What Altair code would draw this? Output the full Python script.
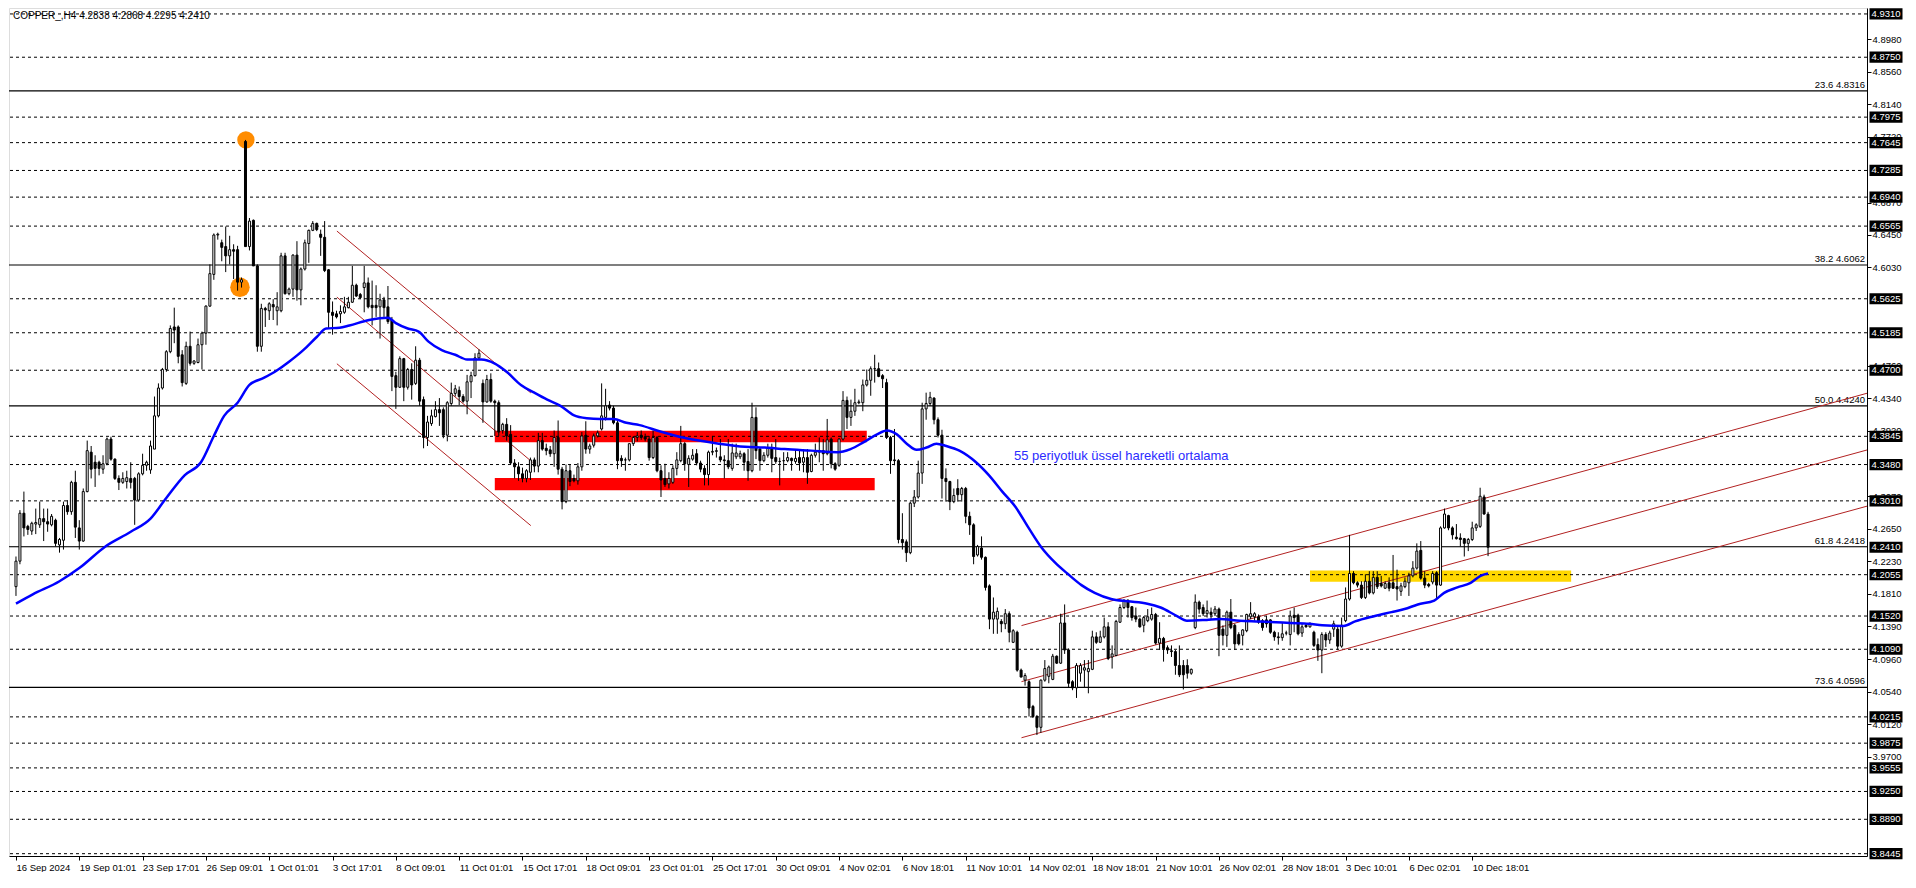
import altair as alt
import pandas as pd

# ---------------- data ----------------
opens = [
 4.190,4.223,4.285,4.268,4.262,4.271,4.270,4.278,4.274,4.270,
 4.276,4.244,4.250,4.295,4.287,4.325,4.266,4.249,4.313,4.364,
 4.351,4.351,4.342,4.349,4.381,4.355,4.330,4.325,4.326,4.330,
 4.330,4.302,4.336,4.347,4.341,4.368,4.411,4.447,4.471,4.494,
 4.526,4.526,4.490,4.453,4.501,4.479,4.480,4.503,4.518,4.553,
 4.594,4.645,4.635,4.630,4.618,4.626,4.626,4.584,4.766,4.630,
 4.664,4.605,4.501,4.550,4.547,4.555,4.547,4.547,4.618,4.569,
 4.575,4.619,4.574,4.601,4.634,4.651,4.660,4.646,4.642,4.600,
 4.545,4.543,4.543,4.545,4.551,4.558,4.580,4.568,4.577,4.583,
 4.554,4.554,4.552,4.561,4.552,4.535,4.463,4.448,4.485,4.448,
 4.471,4.453,4.483,4.432,4.383,4.401,4.410,4.419,4.419,4.386,
 4.427,4.440,4.444,4.436,4.430,4.455,4.463,4.486,4.453,4.429,
 4.458,4.430,4.428,4.392,4.400,4.387,4.350,4.345,4.336,4.330,
 4.338,4.354,4.346,4.379,4.369,4.367,4.362,4.383,4.342,4.300,
 4.340,4.330,4.327,4.345,4.386,4.368,4.373,4.385,4.394,4.409,
 4.425,4.421,4.402,4.356,4.354,4.354,4.375,4.383,4.386,4.384,
 4.381,4.357,4.383,4.340,4.330,4.323,4.325,4.343,4.353,4.375,
 4.348,4.355,4.362,4.350,4.343,4.335,4.364,4.365,4.358,4.354,
 4.353,4.343,4.358,4.358,4.362,4.352,4.340,4.409,4.368,4.353,
 4.360,4.369,4.357,4.352,4.353,4.353,4.356,4.352,4.357,4.351,
 4.357,4.339,4.360,4.364,4.366,4.362,4.381,4.349,4.347,4.381,
 4.431,4.409,4.417,4.428,4.428,4.451,4.457,4.472,4.472,4.463,
 4.454,4.383,4.354,4.353,4.251,4.248,4.234,4.298,4.306,4.337,
 4.420,4.427,4.434,4.406,4.386,4.330,4.326,4.300,4.317,4.309,
 4.317,4.281,4.270,4.231,4.240,4.228,4.191,4.148,4.148,4.145,
 4.142,4.155,4.118,4.131,4.082,4.069,4.067,4.035,4.022,4.008,
 4.069,4.074,4.070,4.100,4.091,4.143,4.108,4.067,4.059,4.078,
 4.082,4.080,4.083,4.125,4.118,4.125,4.138,4.099,4.101,4.144,
 4.163,4.172,4.164,4.152,4.148,4.140,4.146,4.148,4.154,4.117,
 4.123,4.111,4.107,4.106,4.088,4.088,4.088,4.078,4.137,4.170,
 4.163,4.155,4.157,4.155,4.161,4.135,4.127,4.157,4.140,4.128,
 4.127,4.133,4.151,4.151,4.151,4.146,4.147,4.147,4.131,4.125,
 4.124,4.130,4.128,4.153,4.153,4.130,4.140,4.138,4.131,4.115,
 4.108,4.128,4.121,4.135,4.135,4.113,4.146,4.174,4.207,4.195,
 4.192,4.176,4.197,4.182,4.202,4.194,4.188,4.195,4.195,4.190,
 4.184,4.190,4.195,4.204,4.214,4.237,4.201,4.193,4.196,4.208,
 4.192,4.266,4.282,4.266,4.254,4.253,4.252,4.246,4.251,4.266,
 4.268,4.306,4.2838]

highs = [
 4.229,4.289,4.313,4.270,4.274,4.291,4.300,4.291,4.291,4.284,
 4.278,4.253,4.300,4.302,4.327,4.340,4.276,4.317,4.379,4.372,
 4.360,4.353,4.360,4.383,4.384,4.356,4.334,4.338,4.340,4.351,
 4.332,4.338,4.362,4.353,4.379,4.436,4.453,4.473,4.496,4.528,
 4.551,4.528,4.496,4.507,4.520,4.483,4.511,4.520,4.554,4.607,
 4.647,4.648,4.639,4.656,4.644,4.633,4.631,4.590,4.768,4.667,
 4.665,4.607,4.556,4.552,4.558,4.562,4.571,4.622,4.622,4.577,
 4.620,4.637,4.603,4.639,4.652,4.663,4.661,4.652,4.663,4.601,
 4.559,4.547,4.554,4.565,4.565,4.605,4.582,4.570,4.605,4.590,
 4.586,4.580,4.569,4.565,4.579,4.539,4.468,4.488,4.486,4.473,
 4.479,4.501,4.486,4.436,4.411,4.419,4.430,4.434,4.422,4.430,
 4.454,4.451,4.449,4.439,4.464,4.468,4.492,4.497,4.458,4.464,
 4.466,4.432,4.431,4.402,4.408,4.399,4.355,4.351,4.344,4.342,
 4.357,4.357,4.389,4.389,4.375,4.372,4.392,4.405,4.345,4.348,
 4.348,4.335,4.350,4.390,4.404,4.375,4.388,4.392,4.453,4.446,
 4.430,4.424,4.405,4.360,4.357,4.375,4.385,4.390,4.392,4.388,
 4.385,4.392,4.385,4.347,4.349,4.338,4.347,4.364,4.398,4.377,
 4.360,4.368,4.368,4.353,4.347,4.366,4.385,4.370,4.381,4.360,
 4.381,4.375,4.375,4.366,4.364,4.368,4.428,4.422,4.370,4.364,
 4.375,4.375,4.381,4.357,4.364,4.364,4.357,4.368,4.368,4.368,
 4.368,4.362,4.375,4.383,4.381,4.407,4.383,4.351,4.382,4.443,
 4.436,4.432,4.446,4.432,4.458,4.471,4.475,4.490,4.480,4.465,
 4.459,4.385,4.394,4.355,4.285,4.251,4.300,4.315,4.353,4.428,
 4.441,4.442,4.435,4.409,4.393,4.343,4.327,4.317,4.329,4.319,
 4.319,4.287,4.272,4.244,4.255,4.229,4.193,4.176,4.163,4.148,
 4.161,4.158,4.135,4.133,4.084,4.078,4.069,4.037,4.024,4.070,
 4.095,4.088,4.103,4.101,4.155,4.167,4.110,4.069,4.091,4.091,
 4.095,4.095,4.133,4.131,4.133,4.150,4.144,4.114,4.147,4.167,
 4.174,4.174,4.165,4.163,4.150,4.152,4.161,4.163,4.156,4.144,
 4.125,4.114,4.114,4.108,4.114,4.095,4.096,4.084,4.180,4.172,
 4.167,4.172,4.163,4.165,4.163,4.140,4.159,4.174,4.142,4.131,
 4.135,4.155,4.170,4.157,4.154,4.148,4.152,4.148,4.133,4.131,
 4.144,4.133,4.159,4.163,4.155,4.142,4.143,4.144,4.133,4.123,
 4.131,4.131,4.133,4.146,4.140,4.150,4.189,4.257,4.210,4.197,
 4.197,4.206,4.210,4.210,4.210,4.204,4.197,4.202,4.231,4.212,
 4.195,4.202,4.208,4.223,4.246,4.249,4.210,4.195,4.210,4.210,
 4.268,4.291,4.283,4.268,4.271,4.259,4.253,4.253,4.274,4.272,
 4.318,4.309,4.2868]

lows = [
 4.178,4.219,4.255,4.257,4.257,4.258,4.266,4.249,4.261,4.268,
 4.242,4.234,4.238,4.283,4.283,4.253,4.238,4.248,4.312,4.330,
 4.319,4.334,4.336,4.347,4.353,4.328,4.315,4.323,4.317,4.317,
 4.270,4.300,4.334,4.340,4.336,4.368,4.409,4.445,4.468,4.492,
 4.505,4.479,4.449,4.451,4.476,4.477,4.479,4.471,4.503,4.552,
 4.587,4.639,4.611,4.597,4.607,4.588,4.573,4.577,4.630,4.625,
 4.605,4.494,4.494,4.526,4.535,4.535,4.528,4.545,4.568,4.567,
 4.565,4.560,4.554,4.599,4.609,4.650,4.650,4.618,4.597,4.524,
 4.516,4.537,4.531,4.543,4.550,4.557,4.565,4.562,4.545,4.550,
 4.528,4.539,4.511,4.539,4.530,4.443,4.420,4.447,4.430,4.445,
 4.432,4.451,4.424,4.369,4.372,4.398,4.409,4.398,4.382,4.378,
 4.424,4.436,4.425,4.428,4.413,4.434,4.462,4.484,4.402,4.428,
 4.428,4.385,4.385,4.388,4.379,4.348,4.330,4.327,4.325,4.325,
 4.328,4.338,4.338,4.366,4.360,4.358,4.345,4.335,4.290,4.298,
 4.320,4.325,4.322,4.340,4.362,4.362,4.370,4.383,4.392,4.405,
 4.418,4.400,4.342,4.345,4.340,4.352,4.372,4.378,4.380,4.378,
 4.353,4.355,4.338,4.306,4.319,4.317,4.323,4.334,4.351,4.340,
 4.319,4.353,4.347,4.338,4.321,4.321,4.360,4.357,4.351,4.330,
 4.342,4.340,4.355,4.355,4.340,4.327,4.338,4.355,4.340,4.351,
 4.357,4.338,4.349,4.321,4.340,4.351,4.340,4.349,4.340,4.338,
 4.323,4.338,4.357,4.351,4.340,4.360,4.343,4.340,4.345,4.379,
 4.394,4.398,4.411,4.426,4.417,4.449,4.437,4.454,4.461,4.447,
 4.381,4.336,4.347,4.246,4.238,4.222,4.232,4.293,4.304,4.323,
 4.406,4.424,4.400,4.383,4.304,4.300,4.289,4.298,4.300,4.300,
 4.272,4.257,4.219,4.229,4.225,4.185,4.135,4.129,4.129,4.131,
 4.135,4.118,4.117,4.080,4.073,4.062,4.022,4.020,3.998,4.001,
 4.067,4.065,4.069,4.090,4.090,4.103,4.059,4.056,4.046,4.067,
 4.059,4.052,4.082,4.116,4.117,4.123,4.095,4.084,4.100,4.143,
 4.161,4.150,4.146,4.144,4.137,4.131,4.144,4.146,4.115,4.108,
 4.093,4.103,4.099,4.076,4.073,4.057,4.071,4.076,4.135,4.155,
 4.152,4.150,4.148,4.152,4.100,4.114,4.112,4.135,4.108,4.114,
 4.114,4.131,4.148,4.146,4.142,4.133,4.137,4.129,4.120,4.115,
 4.120,4.127,4.114,4.131,4.127,4.125,4.137,4.137,4.112,4.094,
 4.078,4.112,4.116,4.125,4.108,4.111,4.144,4.172,4.193,4.189,
 4.174,4.174,4.180,4.180,4.187,4.189,4.187,4.184,4.187,4.172,
 4.178,4.188,4.178,4.202,4.212,4.199,4.188,4.189,4.193,4.175,
 4.191,4.265,4.263,4.251,4.251,4.242,4.229,4.236,4.249,4.262,
 4.266,4.283,4.2295]

closes = [
 4.223,4.285,4.266,4.264,4.272,4.273,4.278,4.274,4.271,4.281,
 4.246,4.251,4.295,4.287,4.325,4.267,4.249,4.313,4.366,4.342,
 4.343,4.343,4.349,4.381,4.355,4.330,4.325,4.330,4.331,4.325,
 4.302,4.336,4.347,4.351,4.372,4.411,4.447,4.471,4.494,4.524,
 4.522,4.488,4.454,4.501,4.479,4.482,4.503,4.518,4.553,4.595,
 4.645,4.646,4.629,4.618,4.626,4.624,4.584,4.587,4.630,4.663,
 4.605,4.501,4.550,4.548,4.556,4.552,4.552,4.618,4.569,4.575,
 4.619,4.574,4.601,4.635,4.651,4.660,4.652,4.642,4.599,4.545,
 4.541,4.539,4.546,4.552,4.558,4.580,4.566,4.564,4.583,4.552,
 4.551,4.551,4.561,4.551,4.533,4.462,4.448,4.485,4.448,4.471,
 4.451,4.483,4.430,4.383,4.403,4.411,4.419,4.415,4.386,4.428,
 4.440,4.446,4.436,4.430,4.455,4.463,4.486,4.492,4.429,4.458,
 4.430,4.428,4.390,4.400,4.385,4.350,4.345,4.336,4.330,4.340,
 4.354,4.346,4.379,4.368,4.366,4.362,4.383,4.342,4.300,4.340,
 4.326,4.327,4.345,4.385,4.368,4.372,4.385,4.389,4.411,4.424,
 4.421,4.402,4.353,4.353,4.354,4.375,4.383,4.385,4.383,4.381,
 4.357,4.383,4.340,4.328,4.322,4.330,4.343,4.354,4.375,4.349,
 4.356,4.360,4.350,4.342,4.335,4.364,4.365,4.366,4.354,4.353,
 4.345,4.363,4.363,4.362,4.351,4.340,4.409,4.366,4.353,4.360,
 4.370,4.356,4.352,4.352,4.353,4.357,4.353,4.356,4.350,4.357,
 4.338,4.360,4.364,4.366,4.362,4.380,4.349,4.342,4.381,4.431,
 4.409,4.417,4.428,4.429,4.451,4.457,4.472,4.472,4.462,4.459,
 4.383,4.353,4.353,4.251,4.247,4.234,4.298,4.306,4.337,4.420,
 4.427,4.435,4.406,4.386,4.330,4.326,4.300,4.308,4.309,4.317,
 4.281,4.270,4.229,4.242,4.228,4.189,4.148,4.157,4.158,4.142,
 4.155,4.131,4.133,4.082,4.073,4.075,4.033,4.022,4.008,4.069,
 4.084,4.086,4.100,4.091,4.143,4.108,4.065,4.059,4.088,4.088,
 4.085,4.084,4.125,4.118,4.125,4.138,4.097,4.103,4.145,4.163,
 4.172,4.163,4.150,4.148,4.138,4.150,4.151,4.154,4.117,4.123,
 4.110,4.108,4.106,4.088,4.076,4.076,4.078,4.083,4.170,4.161,
 4.155,4.159,4.154,4.161,4.127,4.127,4.157,4.137,4.116,4.116,
 4.134,4.154,4.155,4.155,4.144,4.137,4.142,4.131,4.125,4.124,
 4.129,4.130,4.152,4.150,4.129,4.138,4.138,4.142,4.114,4.108,
 4.128,4.121,4.130,4.142,4.113,4.140,4.174,4.207,4.195,4.192,
 4.176,4.197,4.182,4.202,4.190,4.191,4.194,4.188,4.188,4.187,
 4.191,4.197,4.204,4.214,4.236,4.201,4.192,4.191,4.207,4.192,
 4.266,4.284,4.266,4.257,4.252,4.251,4.246,4.251,4.266,4.270,
 4.307,4.284,4.2410]

# 55-period EMA read at sample bars
ema_bars = [0, 4.25, 11, 16, 22.6, 29, 34, 37.6, 42.6, 46.75, 50, 52.6, 56, 59, 62.6, 66, 69, 72.6, 76, 78.4,
            81.75, 84.25, 89.25, 94, 96, 99, 101.75, 104.25, 107.6, 111, 114, 117.6, 120.9, 124, 127.6, 131,
            134.25, 137.6, 140.9, 144.25, 147.6, 151, 154.25, 157.6, 162.6, 167.6, 172.6, 177.6, 184.25, 189.25,
            194.25, 200.9, 207.6, 210.9, 214.25, 217.6, 220.1, 222.6, 225.1, 227.6, 230.1, 232.6, 235.1, 238.4,
            242.6, 245.9, 249.25, 252.6, 255.9, 259.25, 262.6, 265.9, 269.25, 272.6, 276.75, 280.9, 285.9, 289.25,
            293.4, 295.9, 300.9, 304.25, 309.25, 314.25, 318.4, 322, 326.75, 330.1, 335.5, 338.4, 343.4, 347.6,
            350.9, 354.25, 358.4, 360.9, 364.25, 367.6, 370.1, 372]
ema_vals = [4.168, 4.180, 4.197, 4.214, 4.242, 4.261, 4.278, 4.302, 4.334, 4.351, 4.385, 4.411, 4.428, 4.451, 4.460,
            4.470, 4.481, 4.496, 4.513, 4.524, 4.525, 4.528, 4.535, 4.538, 4.531, 4.524, 4.520, 4.507, 4.496, 4.490,
            4.484, 4.484, 4.479, 4.468, 4.451, 4.441, 4.432, 4.424, 4.412, 4.408, 4.407, 4.407, 4.402, 4.399, 4.391,
            4.384, 4.379, 4.375, 4.371, 4.370, 4.368, 4.366, 4.364, 4.368, 4.377, 4.387, 4.392, 4.387, 4.375, 4.367,
            4.370, 4.375, 4.372, 4.366, 4.351, 4.334, 4.313, 4.293, 4.266, 4.240, 4.221, 4.206, 4.192, 4.182, 4.174,
            4.171, 4.168, 4.163, 4.152, 4.146, 4.147, 4.148, 4.146, 4.145, 4.144, 4.143, 4.142, 4.140, 4.139, 4.145,
            4.152, 4.157, 4.161, 4.167, 4.172, 4.182, 4.189, 4.195, 4.204, 4.207]

date_labels = ["16 Sep 2024", "19 Sep 01:01", "23 Sep 17:01", "26 Sep 09:01", "1 Oct 01:01", "3 Oct 17:01",
               "8 Oct 09:01", "11 Oct 01:01", "15 Oct 17:01", "18 Oct 09:01", "23 Oct 01:01", "25 Oct 17:01",
               "30 Oct 09:01", "4 Nov 02:01", "6 Nov 18:01", "11 Nov 10:01", "14 Nov 02:01", "18 Nov 18:01",
               "21 Nov 10:01", "26 Nov 02:01", "28 Nov 18:01", "3 Dec 10:01", "6 Dec 02:01", "10 Dec 18:01"]
date_bars = [0, 16, 32, 48, 64, 80, 96, 112, 128, 144, 160, 176, 192, 208, 224, 240, 256, 272, 288, 304,
             320, 336, 352, 368]

# regular price-scale labels that are not fully covered by the marked level boxes
axis_prices = [4.8980, 4.8560, 4.8140, 4.7720, 4.6870, 4.6450, 4.6030, 4.4760,
               4.4340, 4.3920, 4.3070, 4.2650, 4.2230, 4.1810, 4.1390, 4.0960, 4.0540, 4.0120,
               3.9700]

dashed_levels = [4.9310, 4.8750, 4.7975, 4.7645, 4.7285, 4.6940, 4.6565, 4.5625, 4.5185, 4.4700, 4.3845,
                 4.3480, 4.3010, 4.2055, 4.1520, 4.1090, 4.0215, 3.9875, 3.9555, 3.9250, 3.8890, 3.8445]
current_price = 4.2410
marked_levels = dashed_levels + [current_price]

fib_pct = ["23.6", "38.2", "50.0", "61.8", "73.6"]
fib_levels = [4.8316, 4.6062, 4.4240, 4.2418, 4.0596]

chan_b0 = [81.1, 81.1, 81.1, 254.1, 254.1, 254.1]
chan_p0 = [4.6501, 4.5646, 4.4784, 4.1396, 4.0671, 3.9945]
chan_b1 = [130.1, 130.5, 130.1, 468.1, 468.1, 468.1]
chan_p1 = [4.4407, 4.3510, 4.2690, 4.4407, 4.3673, 4.2946]

red_b0 = [121, 121]
red_b1 = [215, 217]
red_lo = [4.3767, 4.3147]
red_hi = [4.3916, 4.3305]

yel_b0 = [327]
yel_b1 = [393]
yel_lo = [4.1962]
yel_hi = [4.2109]

spike_top = (58.1, 4.768)
spike_low = (56.6, 4.5774)

ema_note = "55 periyotluk üssel hareketli ortalama"
ema_note_pos = (252.2, 4.3596)
title_text = "COPPER_,H4  4.2838 4.2868 4.2295 4.2410"

# ---------------- layout ----------------
W = 1858
H = 848
FONT = "Liberation Sans"
FS = 9.5
xs = alt.Scale(domain=[-0.5, 466.5], nice=False, zero=False)
ys = alt.Scale(domain=[3.8415, 4.9387], nice=False, zero=False)

label_js = "[" + ",".join("'%s'" % s for s in date_labels) + "]"
bar_js = "[" + ",".join(str(b) for b in date_bars) + "]"
xaxis = alt.Axis(values=date_bars, labelExpr=label_js + "[indexof(" + bar_js + ", datum.value)]",
                 labelAlign="left", labelBaseline="top", labelPadding=2, tickSize=4,
                 labelFlush=False, labelOverlap=False, grid=False, domainColor="black",
                 tickColor="black", labelColor="black", labelFontSize=FS, labelFont=FONT, title=None)
yaxis = alt.Axis(orient="right", values=axis_prices, format=".4f", labelPadding=1, tickSize=4,
                 labelFlush=False, labelOverlap=False, grid=False, domainColor="black",
                 tickColor="black", labelColor="black", labelFontSize=FS, labelFont=FONT, title=None)


def X(f):
    return alt.X(f, type="quantitative", scale=xs, axis=xaxis)


def Y(f):
    return alt.Y(f, type="quantitative", scale=ys, axis=yaxis)


cdf = pd.DataFrame({"bar": list(range(len(closes))), "open": opens, "high": highs,
                    "low": lows, "close": closes})
edf = pd.DataFrame({"bar": ema_bars, "ema": ema_vals})
chdf = pd.DataFrame({"b0": chan_b0, "b1": chan_b1, "p0": chan_p0, "p1": chan_p1})
rdf = pd.DataFrame({"b0": red_b0, "b1": red_b1, "p0": red_lo, "p1": red_hi})
ydf = pd.DataFrame({"b0": yel_b0, "b1": yel_b1, "p0": yel_lo, "p1": yel_hi})
ddf = pd.DataFrame({"level": dashed_levels})
fdf = pd.DataFrame({"level": fib_levels,
                    "label": [p + " " + format(v, ".4f") for p, v in zip(fib_pct, fib_levels)]})
cpdf = pd.DataFrame({"level": [current_price]})
mdf = pd.DataFrame({"level": marked_levels})
top_df = pd.DataFrame({"bar": [spike_top[0]], "price": [spike_top[1]]})
low_df = pd.DataFrame({"bar": [spike_low[0]], "price": [spike_low[1]]})
note_df = pd.DataFrame({"bar": [ema_note_pos[0]], "price": [ema_note_pos[1]], "t": [ema_note]})
title_df = pd.DataFrame({"t": [title_text]})

red_bands = alt.Chart(rdf).mark_rect(color="#ff0000").encode(x=X("b0"), x2="b1", y=Y("p0"), y2="p1")
yel_band = alt.Chart(ydf).mark_rect(color="#ffd700").encode(x=X("b0"), x2="b1", y=Y("p0"), y2="p1")
dashed = alt.Chart(ddf).mark_rule(color="black", strokeWidth=1, strokeDash=[3, 3]).encode(y=Y("level"))
fibs = alt.Chart(fdf).mark_rule(color="black", strokeWidth=1.2).encode(y=Y("level"))
cur = alt.Chart(cpdf).mark_rule(color="#b8b8b8", strokeWidth=1).encode(y=Y("level"))
fib_txt = alt.Chart(fdf).mark_text(align="right", baseline="bottom", dy=-1, fontSize=FS, font=FONT,
                                   color="black").encode(x=alt.value(W - 2), y=Y("level"), text="label")
channels = alt.Chart(chdf).mark_rule(color="#b22222", strokeWidth=1, clip=True).encode(
    x=X("b0"), x2="b1", y=Y("p0"), y2="p1")
circ_top = alt.Chart(top_df).mark_circle(color="#ff8c00", opacity=1, size=300).encode(x=X("bar"), y=Y("price"))
circ_low = alt.Chart(low_df).mark_circle(color="#ff8c00", opacity=1, size=380).encode(x=X("bar"), y=Y("price"))
wicks = alt.Chart(cdf).mark_rule(color="black", strokeWidth=1).encode(x=X("bar"), y=Y("low"), y2="high")
bodies = alt.Chart(cdf).mark_bar(size=2, stroke="black", strokeWidth=1).encode(
    x=X("bar"), y=Y("open"), y2="close",
    fill=alt.condition("datum.close >= datum.open", alt.value("white"), alt.value("black")))
ema = alt.Chart(edf).mark_line(color="#0000ff", strokeWidth=2.5, interpolate="monotone").encode(
    x=X("bar"), y=Y("ema"))
note = alt.Chart(note_df).mark_text(align="left", baseline="middle", fontSize=13, font=FONT,
                                    color="#2b2bff").encode(x=X("bar"), y=Y("price"), text="t")
title = alt.Chart(title_df).mark_text(align="left", baseline="top", fontSize=10, font=FONT,
                                      color="black").encode(x=alt.value(4), y=alt.value(3), text="t")
BOX = "M-1,-0.34H1V0.34H-1Z"
boxes = alt.Chart(mdf).mark_point(shape=BOX, filled=True, color="black", opacity=1, size=1089,
                                  strokeWidth=0).encode(x=alt.value(W + 19), y=Y("level"))
box_txt = alt.Chart(mdf).mark_text(align="center", baseline="middle", fontSize=FS, font=FONT,
                                   color="white").encode(x=alt.value(W + 19), y=Y("level"),
                                                         text=alt.Text("level:Q", format=".4f"))

chart = alt.layer(
    red_bands, yel_band, dashed, fibs, cur, fib_txt, channels, circ_top, circ_low,
    wicks, bodies, ema, note, title, boxes, box_txt
).properties(width=W, height=H, padding=0).configure_view(
    stroke="black", strokeWidth=1
).configure(background="white", font=FONT)

chart.save("out.html", embed_options={"renderer": "svg", "actions": False})
